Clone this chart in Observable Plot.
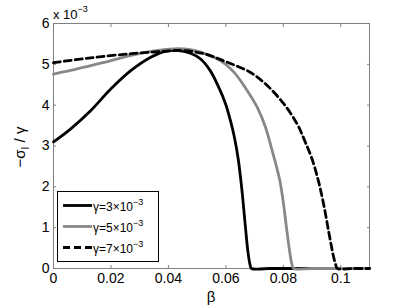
<!DOCTYPE html>
<html>
<head>
<meta charset="utf-8">
<script src="https://cdn.jsdelivr.net/npm/d3@7"></script>
<script src="https://cdn.jsdelivr.net/npm/@observablehq/plot@0.6"></script>
<style>
  html, body { margin: 0; padding: 0; background: #fff; }
</style>
</head>
<body>
<div id="chart"></div>
<script>
// β values and −σ_I/γ (in units of 1e-3) for each γ
const beta3 = [0, 0.006, 0.013, 0.020, 0.027, 0.034, 0.039, 0.043, 0.0477, 0.0512, 0.0546, 0.0575, 0.0599, 0.0616, 0.0630, 0.0643, 0.0655, 0.0667, 0.0677, 0.0684, 0.0689, 0.075, 0.11];
const val3  = [3.10, 3.42, 3.87, 4.40, 4.85, 5.18, 5.32, 5.34, 5.27, 5.13, 4.84, 4.44, 4.03, 3.62, 3.20, 2.68, 1.98, 1.10, 0.40, 0.10, 0, 0, 0];

const beta5 = [0, 0.006, 0.013, 0.020, 0.027, 0.034, 0.042, 0.0477, 0.0512, 0.0581, 0.0628, 0.0674, 0.0709, 0.0738, 0.0761, 0.0773, 0.0788, 0.0800, 0.0811, 0.0822, 0.0830, 0.0836, 0.09, 0.11];
const val5  = [4.76, 4.85, 4.97, 5.09, 5.22, 5.32, 5.38, 5.36, 5.30, 5.09, 4.81, 4.36, 3.95, 3.46, 2.89, 2.58, 2.15, 1.62, 1.00, 0.42, 0.10, 0, 0, 0];

const beta7 = [0, 0.013, 0.027, 0.037, 0.0442, 0.0523, 0.0605, 0.0686, 0.0744, 0.0802, 0.0848, 0.0875, 0.0900, 0.0923, 0.0941, 0.0958, 0.0973, 0.0982, 0.0988, 0.104, 0.11];
const val7  = [5.04, 5.16, 5.26, 5.31, 5.34, 5.26, 5.05, 4.80, 4.48, 4.03, 3.54, 3.12, 2.68, 2.12, 1.55, 0.90, 0.35, 0.10, 0, 0, 0];

const seriesNames = ["3", "5", "7"];
const xTicks = [0, 0.02, 0.04, 0.06, 0.08, 0.1];
const yTicks = [0, 1, 2, 3, 4, 5, 6];
const xTickLabels = ["0", "0.02", "0.04", "0.06", "0.08", "0.1"];

const toRows = (bs, vs) => bs.map((b, i) => ({beta: b, v: vs[i]}));
const d3rows = toRows(beta3, val3);
const d5rows = toRows(beta5, val5);
const d7rows = toRows(beta7, val7);

const axisGray = "#808080";
const font = "'Liberation Sans', Arial, Helvetica, sans-serif";

const chart = Plot.plot({
  width: 407,
  height: 306,
  marginLeft: 53,
  marginRight: 38,
  marginTop: 23,
  marginBottom: 38,
  style: {fontFamily: font, fontSize: "14px", color: "#000", background: "#fff"},
  x: {domain: [0, 0.11]},
  y: {domain: [0, 6]},
  marks: [
    Plot.frame({stroke: axisGray}),
    // tick labels
    Plot.axisX({ticks: xTicks, tickSize: 0, tickPadding: 5, tickFormat: d => xTickLabels[xTicks.indexOf(d)], label: null, fontSize: 14, fill: "#000"}),
    Plot.axisY({ticks: yTicks, tickSize: 0, tickPadding: 4, tickFormat: d => String(d), label: null, fontSize: 14, fill: "#000"}),
    // inward tick marks
    Plot.axisX({ticks: xTicks, anchor: "bottom", tickSize: 3, dy: -3, tickFormat: () => "", label: null, stroke: axisGray}),
    Plot.axisX({ticks: xTicks, anchor: "top", tickSize: 3, dy: 3, tickFormat: () => "", label: null, stroke: axisGray}),
    Plot.axisY({ticks: yTicks, anchor: "left", tickSize: 3, dx: 3, tickFormat: () => "", label: null, stroke: axisGray}),
    Plot.axisY({ticks: yTicks, anchor: "right", tickSize: 3, dx: -3, tickFormat: () => "", label: null, stroke: axisGray}),
    // data
    Plot.line(d3rows, {x: "beta", y: "v", stroke: "#000", strokeWidth: 2.8, curve: "catmull-rom"}),
    Plot.line(d5rows, {x: "beta", y: "v", stroke: "#888888", strokeWidth: 2.8, curve: "catmull-rom"}),
    Plot.line(d7rows, {x: "beta", y: "v", stroke: "#000", strokeWidth: 2.8, strokeDasharray: "7,4", curve: "catmull-rom"})
  ]
});

document.getElementById("chart").appendChild(chart);

const svg = d3.select(chart);

// exponent label
const expo = svg.append("text").attr("x", 53).attr("y", 19)
  .attr("text-anchor", "start")
  .style("font-family", font).style("font-size", "13px").attr("fill", "#000");
expo.append("tspan").text("x 10");
expo.append("tspan").attr("dy", -7).style("font-size", "9px").text("−3");

// y label
const yl = svg.append("text")
  .attr("transform", "translate(25,147) rotate(-90)")
  .attr("text-anchor", "middle")
  .style("font-family", font).style("font-size", "15px").attr("fill", "#000");
yl.append("tspan").text("−σ");
yl.append("tspan").attr("dy", 4).style("font-size", "10px").text("I");
yl.append("tspan").attr("dy", -4).text(" / γ");

// x label
svg.append("text").attr("x", 211).attr("y", 302).attr("text-anchor", "middle")
  .style("font-family", font).style("font-size", "15px").attr("fill", "#000").text("β");

// legend
const lg = svg.append("g");
lg.append("rect").attr("x", 57.5).attr("y", 191.5).attr("width", 101).attr("height", 70)
  .attr("fill", "#fff").attr("stroke", "#000").attr("stroke-width", 1);
const legendStyles = [
  {stroke: "#000", dash: null},
  {stroke: "#888888", dash: null},
  {stroke: "#000", dash: "7,4"}
];
seriesNames.forEach((name, i) => {
  const y = 205.5 + i * 21;
  lg.append("line").attr("x1", 63).attr("x2", 92).attr("y1", y).attr("y2", y)
    .attr("stroke", legendStyles[i].stroke).attr("stroke-width", 2.8)
    .attr("stroke-dasharray", legendStyles[i].dash);
  const t = lg.append("text").attr("x", 93).attr("y", y + 5)
    .attr("text-anchor", "start")
    .style("font-family", font).style("font-size", "12px").attr("fill", "#000");
  t.append("tspan").text("γ=" + name + "×10");
  t.append("tspan").attr("dy", -6).style("font-size", "9px").text("−3");
});
</script>
</body>
</html>
